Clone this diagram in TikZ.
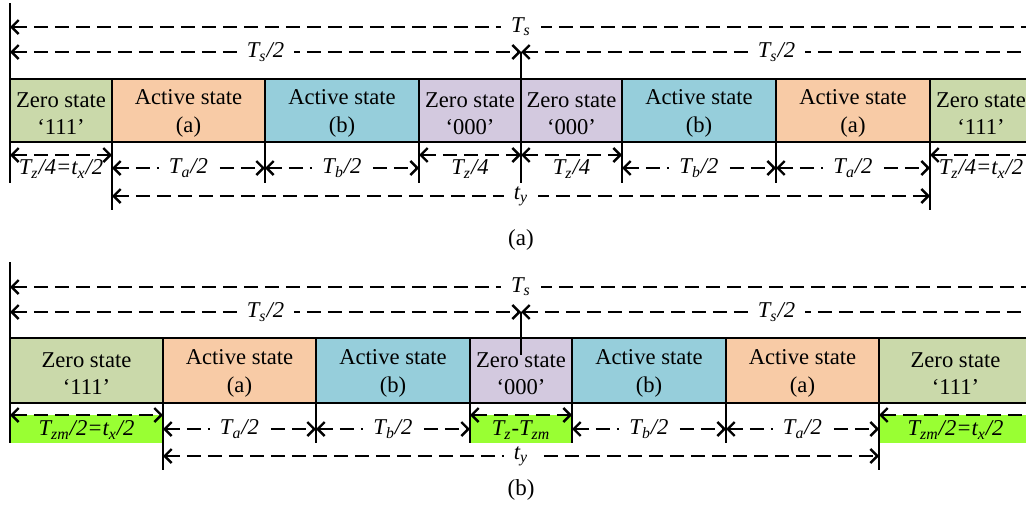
\documentclass[tikz,border=0pt]{standalone}
\usepackage{fontspec}
\setmainfont{Liberation Serif}
\usetikzlibrary{arrows.meta}
\definecolor{ZeroGreen}{HTML}{CAD9AA}
\definecolor{ActOrange}{HTML}{F8CBA6}
\definecolor{ActBlue}{HTML}{96CEDB}
\definecolor{ZeroPurple}{HTML}{D3C9DF}
\definecolor{LimeFill}{HTML}{99FF33}
\newcommand{\tsub}[2]{#1\textsubscript{#2}}
\tikzset{
  statebox/.style={draw=black, line width=0.75pt, align=center,
                   font=\fontsize{11.3}{13.6}\selectfont},
  zerogreen/.style={statebox, fill=ZeroGreen},
  zeropurple/.style={statebox, fill=ZeroPurple},
  activea/.style={statebox, fill=ActOrange},
  activeb/.style={statebox, fill=ActBlue},
  statetext/.style={yshift=-1.5pt},
  limebox/.style={fill=LimeFill},
  dimline/.style={{Straight Barb[length=3.5pt,width=7pt]}-{Straight Barb[length=3.5pt,width=7pt]},
                  line width=1.2pt, dash pattern=on 7pt off 3.5pt},
  dimleft/.style={{Straight Barb[length=3.5pt,width=7pt]}-,
                  line width=1.2pt, dash pattern=on 7pt off 3.5pt},
  dimlabel/.style={fill=white, inner xsep=5pt, inner ysep=1pt,
                   font=\fontsize{11.3}{13.6}\selectfont\itshape},
  sublabel/.style={midway, inner sep=0pt, font=\fontsize{11.3}{13.6}\selectfont\itshape},
  tick/.style={line width=0.75pt},
  caption/.style={font=\fontsize{11.5}{14}\selectfont},
}

\begin{document}
\begin{tikzpicture}[x=0.5pt, y=-0.5pt]
  \useasboundingbox (0,0) rectangle (1026,509);

  % ---- (a) symmetric zero states ----
  \draw[dimleft] (10,27) -- node[dimlabel] {\tsub{T}{s}} (1032,27);
  \draw[dimline] (10,52) -- node[dimlabel] {\tsub{T}{s}/2} (521,52);
  \draw[dimleft] (521,52) -- node[dimlabel] {\tsub{T}{s}/2} (1032,52);

  \draw[zerogreen]  (10,79)  rectangle node[statetext] (za1) {Zero state\\‘111’}   (112,142);
  \draw[activea]    (112,79) rectangle node[statetext] (aa1) {Active state\\(a)}   (265,142);
  \draw[activeb]    (265,79) rectangle node[statetext] (ab1) {Active state\\(b)}   (419,142);
  \draw[zeropurple] (419,79) rectangle node[statetext] (zp1) {Zero state\\‘000’}   (521,142);
  \draw[zeropurple] (521,79) rectangle node[statetext] (zp2) {Zero state\\‘000’}   (622,142);
  \draw[activeb]    (622,79) rectangle node[statetext] (ab2) {Active state\\(b)}   (776,142);
  \draw[activea]    (776,79) rectangle node[statetext] (aa2) {Active state\\(a)}   (930,142);
  \draw[zerogreen]  (930,79) rectangle node[statetext] (za2) {Zero state\\‘111’}   (1032,142);

  \draw[tick] (10,3) -- (10,183);
  \draw[tick] (521,52) -- (521,183);
  \draw[tick] (112,142) -- (112,210);
  \draw[tick] (265,142) -- (265,183);
  \draw[tick] (419,142) -- (419,183);
  \draw[tick] (622,142) -- (622,183);
  \draw[tick] (776,142) -- (776,183);
  \draw[tick] (930,142) -- (930,210);

  \draw[dimline] (10,155) -- node[sublabel, yshift=-7pt] {\tsub{T}{z}/4=\tsub{t}{x}/2} (112,155);
  \draw[dimline] (112,168) -- node[dimlabel] {\tsub{T}{a}/2} (265,168);
  \draw[dimline] (265,168) -- node[dimlabel] {\tsub{T}{b}/2} (419,168);
  \draw[dimline] (419,155) -- node[sublabel, yshift=-7pt] {\tsub{T}{z}/4} (521,155);
  \draw[dimline] (521,155) -- node[sublabel, yshift=-7pt] {\tsub{T}{z}/4} (622,155);
  \draw[dimline] (622,168) -- node[dimlabel] {\tsub{T}{b}/2} (776,168);
  \draw[dimline] (776,168) -- node[dimlabel] {\tsub{T}{a}/2} (930,168);
  \draw[dimleft] (930,155) -- node[sublabel, yshift=-7pt] {\tsub{T}{z}/4=\tsub{t}{x}/2} (1032,155);
  \draw[dimline] (112,196) -- node[dimlabel] {\tsub{t}{y}} (930,196);

  \node[caption] (capa) at (521,240) {(a)};

  % ---- (b) shifted zero states ----
  \draw[dimleft] (10,287) -- node[dimlabel] {\tsub{T}{s}} (1032,287);
  \draw[dimline] (10,312) -- node[dimlabel] {\tsub{T}{s}/2} (521,312);
  \draw[dimleft] (521,312) -- node[dimlabel] {\tsub{T}{s}/2} (1032,312);

  \draw[zerogreen]  (10,338)  rectangle node[statetext] (zb1) {Zero state\\‘111’}  (163,403);
  \draw[activea]    (163,338) rectangle node[statetext] (ba1) {Active state\\(a)}  (316,403);
  \draw[activeb]    (316,338) rectangle node[statetext] (bb1) {Active state\\(b)}  (470,403);
  \draw[zeropurple] (470,338) rectangle node[statetext] (zq1) {Zero state\\‘000’}  (572,403);
  \draw[activeb]    (572,338) rectangle node[statetext] (bb2) {Active state\\(b)}  (726,403);
  \draw[activea]    (726,338) rectangle node[statetext] (ba2) {Active state\\(a)}  (879,403);
  \draw[zerogreen]  (879,338) rectangle node[statetext] (zb2) {Zero state\\‘111’}  (1032,403);

  \fill[limebox] (10,415) rectangle (163,443);
  \fill[limebox] (470,415) rectangle (572,443);
  \fill[limebox] (879,415) rectangle (1032,443);

  \draw[tick] (10,262) -- (10,443);
  \draw[tick] (521,312) -- (521,355);
  \draw[tick] (163,403) -- (163,470);
  \draw[tick] (316,403) -- (316,443);
  \draw[tick] (470,403) -- (470,443);
  \draw[tick] (572,403) -- (572,443);
  \draw[tick] (726,403) -- (726,443);
  \draw[tick] (879,403) -- (879,470);

  \draw[dimline] (10,415) -- node[sublabel, yshift=-7.5pt] {\tsub{T}{zm}/2=\tsub{t}{x}/2} (163,415);
  \draw[dimline] (163,429) -- node[dimlabel] {\tsub{T}{a}/2} (316,429);
  \draw[dimline] (316,429) -- node[dimlabel] {\tsub{T}{b}/2} (470,429);
  \draw[dimline] (470,415) -- node[sublabel, yshift=-7.5pt] {\tsub{T}{z}-\tsub{T}{zm}} (572,415);
  \draw[dimline] (572,429) -- node[dimlabel] {\tsub{T}{b}/2} (726,429);
  \draw[dimline] (726,429) -- node[dimlabel] {\tsub{T}{a}/2} (879,429);
  \draw[dimleft] (879,415) -- node[sublabel, yshift=-7.5pt] {\tsub{T}{zm}/2=\tsub{t}{x}/2} (1032,415);
  \draw[dimline] (163,456) -- node[dimlabel] {\tsub{t}{y}} (879,456);

  \node[caption] (capb) at (521,490) {(b)};

\end{tikzpicture}
\end{document}
